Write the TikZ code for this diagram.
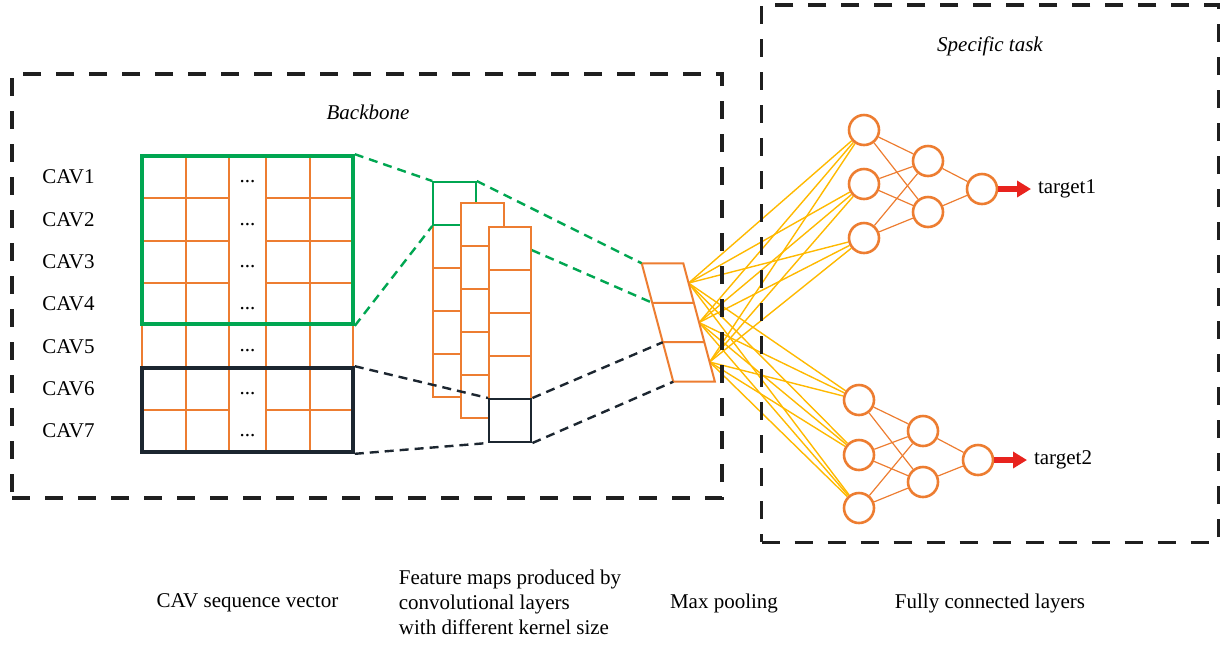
\documentclass[tikz,border=0pt]{standalone}
\usepackage{fontspec}
\setmainfont{Liberation Serif}
\usetikzlibrary{arrows.meta}
\pgfdeclarelayer{background}
\pgfdeclarelayer{foreground}
\pgfsetlayers{background,main,foreground}

\definecolor{cavorange}{RGB}{237,125,49}
\definecolor{cavgreen}{RGB}{0,166,81}
\definecolor{cavyellow}{RGB}{255,185,0}
\definecolor{cavnavy}{RGB}{28,38,48}
\definecolor{cavred}{RGB}{232,35,30}

\begin{document}
\begin{tikzpicture}[x=0.5pt,y=-0.5pt,
	font=\fontsize{10.5}{12.5}\selectfont,
	region/.style={draw=black!88, line width=1.7pt, dash pattern=on 9pt off 7.5pt, inner sep=0pt},
	grid line/.style={draw=cavorange, line width=1pt},
	window/.style={line width=1.8pt, inner sep=0pt, minimum width=105.5pt},
	fmap/.style={draw=cavorange, fill=white, line width=1pt, minimum width=21.25pt, minimum height=21.5pt, inner sep=0pt},
	link/.style={line width=1.2pt, dash pattern=on 4.5pt off 3pt},
	neuron/.style={circle, draw=cavorange, fill=white, line width=1.3pt, minimum size=15pt, inner sep=0pt},
	fc link/.style={draw=cavyellow, line width=0.7pt},
	dense link/.style={draw=cavorange, line width=0.6pt},
	result arrow/.style={draw=cavred, line width=2.6pt, -{Triangle[length=7pt,width=8pt]}},
]
	\useasboundingbox (0,0) rectangle (1221,644);

	% the two regions
	\node[region, minimum width=355pt, minimum height=212pt] (backbonebox) at (367,286) {};
	\node[region, minimum width=228.3pt, minimum height=268.7pt] (taskbox) at (990,273.7) {};
	\node (backbone) at (368,112) {\itshape Backbone};
	\node (task) at (990,46) {\itshape Specific task};

	% CAV sequence vector
	\foreach \x in {142,186,229,266,310,353}
		\draw[grid line] (\x,156) -- (\x,452);
	\foreach \i in {1,...,6}{
		\draw[grid line] (142,156+42.29*\i) -- (229,156+42.29*\i);
		\draw[grid line] (266,156+42.29*\i) -- (353,156+42.29*\i);
	}
	\foreach \i in {1,...,7}{
		\node[anchor=west, inner sep=0pt] (cav\i) at (42,134.85+42.29*\i) {CAV\i};
		\node (dots\i) at (247.5,139.5+42.29*\i) {...};
	}
	\node[window, draw=cavgreen, minimum height=84pt] (window1) at (247.5,240) {};
	\node[window, draw=cavnavy, minimum height=42pt] (window2) at (247.5,410) {};

	% feature maps
	\foreach \i in {4,...,1}
		\node[fmap] (fa\i) at (454.5,203.5+43*\i) {};
	\node[fmap, draw=cavgreen] (fa0) at (454.5,203.5) {};
	\foreach \i in {0,...,4}
		\node[fmap] (fb\i) at (482.3,224.5+43*\i) {};
	\foreach \i in {0,...,3}
		\node[fmap] (fc\i) at (510.2,248.5+43*\i) {};
	\node[fmap, draw=cavnavy] (fc4) at (510.2,248.5+43*4) {};

	% max pooling
	\foreach \i in {0,...,3}{
		\coordinate (pl\i) at (641.7+10.53*\i,263.3+39.47*\i);
		\coordinate (pr\i) at (683.3+10.53*\i,263.3+39.47*\i);
	}
	\foreach \i in {1,2,3}
		\coordinate (pool\i) at (683.3+10.53*\i-5.27,263.3+39.47*\i-19.73);
	\draw[draw=cavorange, fill=white, line width=1pt] (pl0) -- (pr0) -- (pr3) -- (pl3) -- cycle
		(pl1) -- (pr1) (pl2) -- (pr2);

	% fully connected layers
	\node[neuron] (a1) at (864,130) {};
	\node[neuron] (a2) at (864,184) {};
	\node[neuron] (a3) at (864,238) {};
	\node[neuron] (h1) at (928,161) {};
	\node[neuron] (h2) at (928,212) {};
	\node[neuron] (o1) at (982,189) {};
	\node[neuron] (b1) at (859,400) {};
	\node[neuron] (b2) at (859,455) {};
	\node[neuron] (b3) at (859,508) {};
	\node[neuron] (g1) at (923,431) {};
	\node[neuron] (g2) at (923,482) {};
	\node[neuron] (o2) at (978,460) {};
	\node[anchor=west] (target1) at (1031,189) {target1};
	\node[anchor=west] (target2) at (1027,460) {target2};
	\draw[result arrow] (o1.east) -- (target1.west);
	\draw[result arrow] (o2.east) -- (target2.west);

	% captions
	\node (cap1) at (247.5,603) {CAV sequence vector};
	\node[align=left] (cap2) at (510,602) {Feature maps produced by\\convolutional layers\\with different kernel size};
	\node (cap3) at (724,603) {Max pooling};
	\node (cap4) at (990,603) {Fully connected layers};

\begin{pgfonlayer}{background}
	\draw[link, cavgreen] (fa0.south east) -- (pl1);
	\foreach \p in {1,2,3}
		\foreach \n in {a1,a2,a3,b1,b2,b3}
			\draw[fc link] (pool\p) -- (\n);
	\foreach \n in {a1,a2,a3}
		\draw[dense link] (\n) -- (h1) (\n) -- (h2);
	\foreach \n in {b1,b2,b3}
		\draw[dense link] (\n) -- (g1) (\n) -- (g2);
	\draw[dense link] (h1) -- (o1) (h2) -- (o1) (g1) -- (o2) (g2) -- (o2);
\end{pgfonlayer}

\begin{pgfonlayer}{foreground}
	\draw[link, cavgreen] (window1.north east) -- (fa0.north west)
		(window1.south east) -- (fa0.south west)
		(fa0.north east) -- (pl0);
	\draw[link, cavnavy] (window2.north east) -- (fc4.north west)
		(window2.south east) -- (fc4.south west)
		(fc4.north east) -- (pl2)
		(fc4.south east) -- (pl3);
\end{pgfonlayer}

\end{tikzpicture}
\end{document}
